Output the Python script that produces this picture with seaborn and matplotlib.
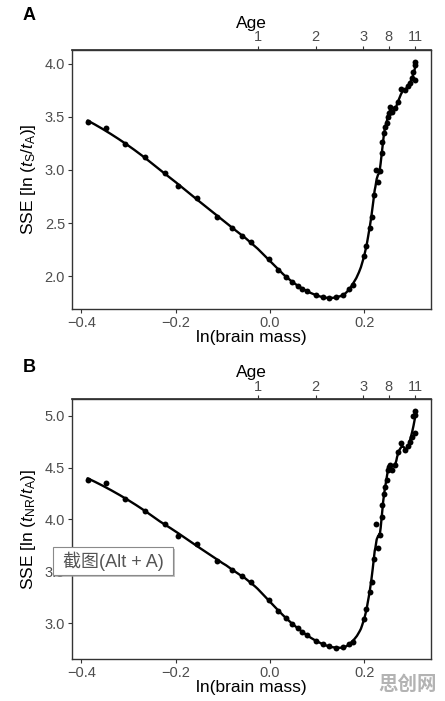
import numpy as np
import pandas as pd
import matplotlib
matplotlib.use("Agg")
import matplotlib.pyplot as plt
import seaborn as sns
from matplotlib.patches import Rectangle

# ---------------- data ----------------
ln_brain_mass = [-0.387, -0.348, -0.307, -0.265, -0.222, -0.194, -0.154, -0.112,
                 -0.080, -0.059, -0.040, -0.002, 0.018, 0.035, 0.047, 0.059,
                 0.069, 0.079, 0.097, 0.113, 0.126, 0.141, 0.156, 0.167, 0.176,
                 0.199, 0.205, 0.212, 0.217, 0.221, 0.226, 0.229, 0.234, 0.238,
                 0.239, 0.242, 0.245, 0.248, 0.250, 0.252, 0.255, 0.259, 0.266,
                 0.273, 0.279, 0.287, 0.294, 0.297, 0.301, 0.304, 0.307, 0.309, 0.309]

sse_A = [3.450, 3.397, 3.243, 3.118, 2.967, 2.845, 2.738, 2.559,
         2.455, 2.380, 2.320, 2.157, 2.060, 1.994, 1.947, 1.909,
         1.881, 1.862, 1.818, 1.805, 1.793, 1.802, 1.824, 1.878, 1.915,
         2.188, 2.286, 2.452, 2.553, 2.763, 2.999, 2.889, 2.992, 3.155,
         3.265, 3.344, 3.407, 3.438, 3.501, 3.532, 3.595, 3.548, 3.579,
         3.639, 3.758, 3.752, 3.793, 3.815, 3.862, 3.925, 3.852, 4.019, 3.987]

sse_B = [4.377, 4.348, 4.197, 4.084, 3.955, 3.842, 3.768, 3.597,
         3.510, 3.452, 3.397, 3.219, 3.116, 3.048, 2.994, 2.952,
         2.910, 2.887, 2.826, 2.800, 2.774, 2.761, 2.768, 2.800, 2.819,
         3.042, 3.135, 3.297, 3.394, 3.623, 3.958, 3.729, 3.848, 4.026,
         4.139, 4.245, 4.316, 4.381, 4.477, 4.510, 4.529, 4.477, 4.526,
         4.655, 4.742, 4.671, 4.710, 4.752, 4.800, 4.994, 4.832, 5.048, 5.010]

age_labels = ["1", "2", "3", "8", "11"]
age_ln_mass = [-0.025, 0.097, 0.198, 0.252, 0.309]

x_ticks = [-0.4, -0.2, 0.0, 0.2]
y_ticks_A = [2.0, 2.5, 3.0, 3.5, 4.0]
y_ticks_B = [3.0, 3.5, 4.0, 4.5, 5.0]


def loess(x, y, xg, k=9, deg=2):
    x = np.asarray(x, float)
    y = np.asarray(y, float)
    out = []
    for x0 in xg:
        d = np.abs(x - x0)
        h = np.sort(d)[k - 1] * 1.0001 + 1e-9
        w = np.clip(1 - (d / h) ** 3, 0, None) ** 3
        X = np.vander(x - x0, deg + 1)
        W = np.sqrt(w)
        coef, *_ = np.linalg.lstsq(X * W[:, None], y * W, rcond=None)
        out.append(coef[-1])
    return np.array(out)


sns.set_theme(style="white")
plt.rcParams["font.family"] = ["Liberation Sans", "DejaVu Sans"]
plt.rcParams["mathtext.fontset"] = "custom"
plt.rcParams["mathtext.rm"] = "Liberation Sans"
plt.rcParams["mathtext.it"] = "Liberation Sans:italic"
plt.rcParams["mathtext.bf"] = "Liberation Sans:bold"

W, H = 445, 701
fig = plt.figure(figsize=(W / 100, H / 100), dpi=100)
fig.patch.set_facecolor("white")

TICK_C = "#4D4D4D"
SPINE_C = "#333333"
TICK_FS = 10.5


def make_panel(top_px, bottom_px, ys, ylim, yticks, ylabel, letter, letter_y):
    ax = fig.add_axes([72 / W, 1 - bottom_px / H, (431 - 72) / W, (bottom_px - top_px) / H])
    df = pd.DataFrame({"x": ln_brain_mass, "y": ys})
    xg = np.linspace(min(ln_brain_mass), max(ln_brain_mass), 500)
    yg = loess(df["x"], df["y"], xg)
    sns.lineplot(x=xg, y=yg, ax=ax, color="black", linewidth=1.7,
                 estimator=None, sort=False)
    sns.scatterplot(data=df, x="x", y="y", ax=ax, color="black", s=18,
                    linewidth=0, zorder=3)
    ax.set_xlim(-0.42, 0.342)
    ax.set_ylim(*ylim)
    ax.set_xticks(x_ticks)
    ax.set_xticklabels([f"{v:.1f}".replace("-", "\u2212") for v in x_ticks])
    ax.set_yticks(yticks)
    ax.set_yticklabels([f"{v:.1f}" for v in yticks])
    ax.set_xlabel("ln(brain mass)", fontsize=12.5, color="black", labelpad=0)
    ax.set_ylabel(ylabel, fontsize=12.5, color="black", labelpad=5)
    ax.tick_params(axis="both", which="major", direction="out", length=3,
                   width=0.8, color=SPINE_C, labelcolor=TICK_C, labelsize=TICK_FS,
                   pad=2, bottom=True, left=True)
    for s in ax.spines.values():
        s.set_color(SPINE_C)
        s.set_linewidth(1.0)
    sec = ax.secondary_xaxis("top")
    sec.set_xticks(age_ln_mass)
    sec.set_xticklabels(age_labels)
    sec.tick_params(axis="x", direction="out", length=3, width=0.8,
                    color=SPINE_C, labelcolor=TICK_C, labelsize=TICK_FS, pad=1)
    sec.set_xlabel("Age", fontsize=12.5, color="black", labelpad=2)
    sec.spines["top"].set_color(SPINE_C)
    fig.text(23 / W, 1 - letter_y / H, letter, fontsize=13, fontweight="bold",
             ha="left", va="center", color="black")
    return ax


make_panel(50, 309, sse_A, (1.69, 4.13), y_ticks_A,
           r"SSE [ln ($\mathit{t}_{\mathrm{S}}$/$\mathit{t}_{\mathrm{A}}$)]", "A", 15)
make_panel(399.3, 658.7, sse_B, (2.656, 5.16), y_ticks_B,
           r"SSE [ln ($\mathit{t}_{\mathrm{NR}}$/$\mathit{t}_{\mathrm{A}}$)]", "B", 367)

# screenshot tooltip overlay
fig.patches.append(Rectangle((55 / W, 1 - 577 / H), 120 / W, 28 / H,
                             transform=fig.transFigure, facecolor="#9a9a9a",
                             edgecolor="none", alpha=0.6, zorder=9))
fig.patches.append(Rectangle((53 / W, 1 - 575 / H), 120 / W, 28 / H,
                             transform=fig.transFigure, facecolor="white",
                             edgecolor="#8a8a8a", linewidth=0.8, zorder=10))
fig.text(113 / W, 1 - 561 / H, "截图(Alt + A)", fontsize=13, color="#555555",
         ha="center", va="center", family=["Liberation Sans", "Noto Sans CJK SC"],
         zorder=11)

# watermark
fig.text(408 / W, 1 - 684 / H, "思创网", fontsize=14, color="#b3b3b3",
         fontweight="bold", ha="center", va="center",
         family=["Noto Sans CJK SC", "DejaVu Sans"], zorder=11)

fig.savefig("out.png", dpi=100)
